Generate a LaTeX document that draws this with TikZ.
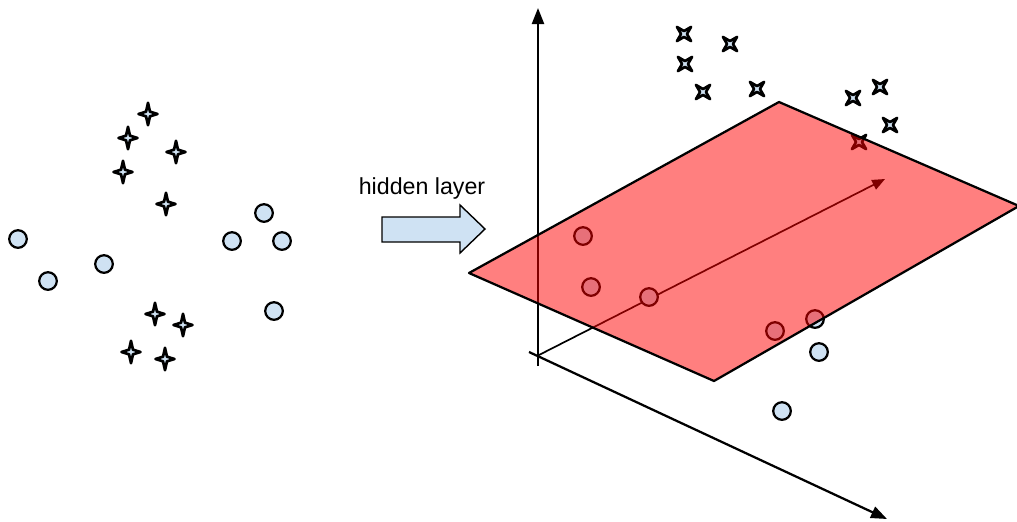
\documentclass[tikz,border=0pt]{standalone}
\usepackage{fontspec}
\setmainfont{Liberation Sans}
\usetikzlibrary{shapes.geometric,arrows.meta}
\definecolor{dotBlue}{HTML}{CFE2F3}
\definecolor{planeRed}{HTML}{FF0000}

\begin{document}
\begin{tikzpicture}[
    x=0.025cm, y=-0.025cm,
    dot/.style={circle, draw=black, line width=1.6pt, fill=dotBlue,
                minimum size=0.44cm, inner sep=0pt},
    spark/.style={star, star points=4, star point ratio=3.4, draw=black, line width=1.9pt,
                  line join=round, fill=dotBlue, minimum size=0.56cm, inner sep=0pt, xscale=0.85},
    cross/.style={star, star points=4, star point ratio=3.4, draw=black, line width=1.9pt,
                  line join=round, fill=dotBlue, minimum size=0.5cm, inner sep=0pt, rotate=45},
    axis/.style={-{Triangle[length=4mm, width=3mm]}, line width=1.6pt},
    normal/.style={-{Triangle[length=3.2mm, width=2.6mm]}, line width=1.2pt},
    plane/.style={fill=planeRed, fill opacity=0.5, draw=black, line width=1.6pt, line join=round},
    caption/.style={font=\fontsize{16.5}{20}\selectfont},
]
    \useasboundingbox (0,0) rectangle (1017,521);

    % Input space: stars
    \node[spark] (s1) at (148,114) {};
    \node[spark] (s2) at (128,138) {};
    \node[spark] (s3) at (176,152) {};
    \node[spark] (s4) at (123,172) {};
    \node[spark] (s5) at (166,204) {};
    \node[spark] (s6) at (155,314) {};
    \node[spark] (s7) at (183,325) {};
    \node[spark] (s8) at (131,352) {};
    \node[spark] (s9) at (165,359) {};

    % Input space: circles
    \node[dot] (c1) at (18,239) {};
    \node[dot] (c2) at (48,281) {};
    \node[dot] (c3) at (104,264) {};
    \node[dot] (c4) at (232,241) {};
    \node[dot] (c5) at (264,213) {};
    \node[dot] (c6) at (282,241) {};
    \node[dot] (c7) at (274,311) {};

    % Mapping
    \node[caption] (hidden) at (422,188) {hidden layer};
    \draw[line width=1pt, fill=dotBlue] (382,217) -- (460,217) -- (460,205) -- (485,229)
        -- (460,253) -- (460,242) -- (382,242) -- cycle;

    % Feature space: axes
    \coordinate (origin) at (537,356);
    \coordinate (ybase) at (538,366);
    \coordinate (ytip) at (538,8);
    \coordinate (xbase) at (529,352);
    \coordinate (xtip) at (887,519);
    \coordinate (ntip) at (885,179);
    \draw[axis] (ybase) -- (ytip);
    \draw[axis] (xbase) -- (xtip);
    \draw[normal] (origin) -- (ntip);

    % Feature space: circles
    \node[dot] (r1) at (583,236) {};
    \node[dot] (r2) at (591,287) {};
    \node[dot] (r3) at (649,297) {};
    \node[dot] (r4) at (775,331) {};
    \node[dot] (r5) at (815,319) {};
    \node[dot] (r6) at (819,352) {};
    \node[dot] (r7) at (782,411) {};

    % Feature space: stars
    \node[cross] (x1) at (684,34) {};
    \node[cross] (x2) at (730,44) {};
    \node[cross] (x3) at (685,64) {};
    \node[cross] (x4) at (703,92) {};
    \node[cross] (x5) at (757,89) {};
    \node[cross] (x6) at (853,98) {};
    \node[cross] (x7) at (880,87) {};
    \node[cross] (x8) at (890,125) {};
    \node[cross] (x9) at (859,142) {};

    % Separating plane
    \coordinate (pl) at (469,273);
    \coordinate (pt) at (779,102);
    \coordinate (pr) at (1019,206);
    \coordinate (pb) at (714,381);
    \draw[plane] (pl) -- (pt) -- (pr) -- (pb) -- cycle;
\end{tikzpicture}
\end{document}
